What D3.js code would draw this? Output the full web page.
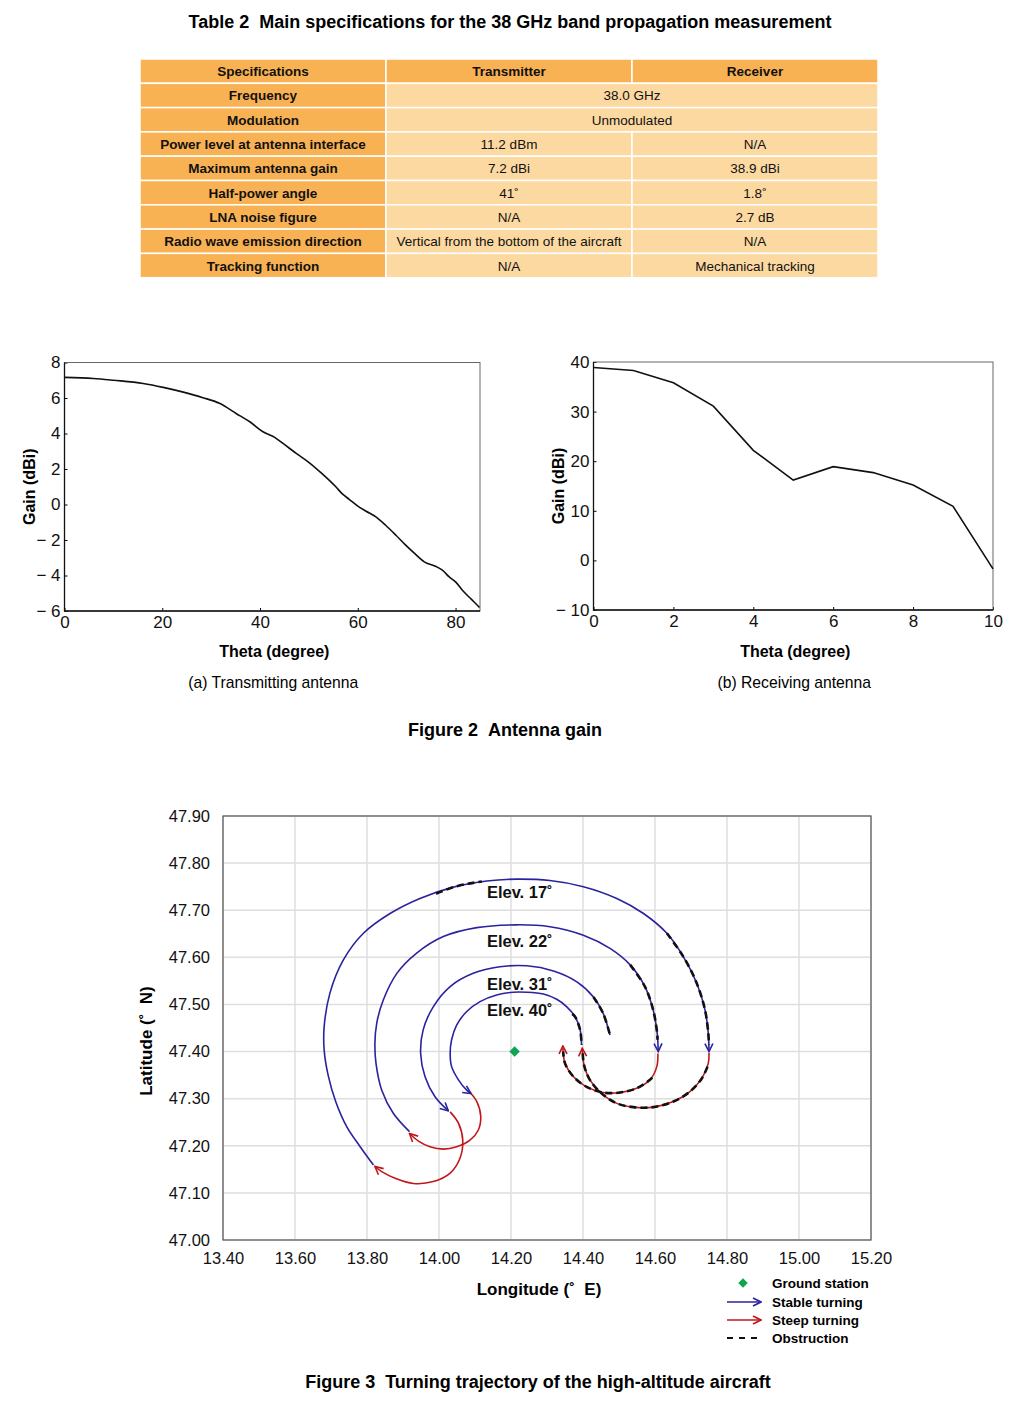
<!DOCTYPE html>
<html>
<head>
<meta charset="utf-8">
<script src="https://cdn.jsdelivr.net/npm/d3@7"></script>
<style>
body { margin: 0; background: #fff; }
svg { display: block; font-family: "Liberation Sans", Arial, sans-serif; }
</style>
</head>
<body>
<svg id="page" width="1024" height="1410"></svg>
<script>
// ---- Table 2 ----
let spec_names = ["Frequency", "Modulation", "Power level at antenna interface", "Maximum antenna gain",
    "Half-power angle", "LNA noise figure", "Radio wave emission direction", "Tracking function"]
let tx_values = ["38.0 GHz", "Unmodulated", "11.2 dBm", "7.2 dBi", "41˚", "N/A",
    "Vertical from the bottom of the aircraft", "N/A"]
let rx_values = [null, null, "N/A", "38.9 dBi", "1.8˚", "2.7 dB", "N/A", "Mechanical tracking"]
let table_head = ["Specifications", "Transmitter", "Receiver"]

// ---- Figure 2 (a) transmitting antenna ----
let tx_theta = [0, 5.9, 10, 16.1, 20.2, 24.3, 28.3, 31.7, 35.1, 37.9, 40.6, 43, 44.7, 47.4, 50.1, 52.8,
    55.5, 56.9, 58.3, 60, 61.7, 63.7, 65.7, 67.8, 69.8, 71.5, 73.6, 75.9, 77.3, 78.7, 80, 81.4, 82.7, 83.8, 84.9]
let tx_gain = [7.16, 7.1, 7.0, 6.82, 6.6, 6.33, 6.02, 5.7, 5.13, 4.66, 4.1, 3.78, 3.44, 2.88, 2.35, 1.71,
    1.0, 0.58, 0.28, -0.09, -0.38, -0.7, -1.17, -1.73, -2.29, -2.73, -3.23, -3.48, -3.7, -4.08, -4.36, -4.83, -5.2, -5.49, -5.8]

// ---- Figure 2 (b) receiving antenna ----
let rx_theta = [0, 1, 2, 3, 4, 5, 6, 7, 8, 9, 10]
let rx_gain = [38.9, 38.3, 35.8, 31.1, 22.2, 16.2, 18.9, 17.7, 15.2, 10.9, -1.7]

// ---- Figure 3 trajectories [lon, lat] ----
let stable_40 = [[14.396, 47.414], [14.392, 47.446], [14.378, 47.474], [14.355, 47.495], [14.327, 47.511],
    [14.290, 47.522], [14.244, 47.526], [14.206, 47.526], [14.160, 47.520], [14.114, 47.506], [14.077, 47.485],
    [14.049, 47.456], [14.035, 47.425], [14.031, 47.396], [14.035, 47.368], [14.054, 47.340], [14.077, 47.318],
    [14.089, 47.311]]
let steep_40 = [[14.089, 47.311], [14.105, 47.294], [14.116, 47.262], [14.109, 47.233], [14.086, 47.212],
    [14.049, 47.198], [14.012, 47.193], [13.975, 47.198], [13.943, 47.210], [13.918, 47.226]]
let stable_22 = [[13.918, 47.230], [13.873, 47.269], [13.841, 47.318], [13.825, 47.375], [13.822, 47.418],
    [13.827, 47.460], [13.845, 47.509], [13.883, 47.566], [13.938, 47.609], [14.012, 47.644], [14.105, 47.663],
    [14.216, 47.669], [14.308, 47.665], [14.401, 47.647], [14.475, 47.619], [14.531, 47.584], [14.572, 47.538],
    [14.595, 47.488], [14.606, 47.439], [14.609, 47.400]]
let steep_22 = [[14.608, 47.396], [14.605, 47.368], [14.586, 47.340], [14.549, 47.322], [14.503, 47.313],
    [14.456, 47.313], [14.410, 47.325], [14.373, 47.347], [14.350, 47.375], [14.344, 47.412]]
let stable_31 = [[14.475, 47.435], [14.456, 47.481], [14.429, 47.516], [14.383, 47.548], [14.318, 47.571],
    [14.244, 47.582], [14.169, 47.580], [14.095, 47.566], [14.031, 47.538], [13.984, 47.495], [13.956, 47.446],
    [13.949, 47.396], [13.961, 47.347], [13.989, 47.304], [14.026, 47.274]]
let steep_31 = [[14.031, 47.272], [14.054, 47.248], [14.066, 47.212], [14.058, 47.173], [14.031, 47.142],
    [13.984, 47.124], [13.929, 47.120], [13.878, 47.131], [13.841, 47.145], [13.822, 47.156]]
let stable_17 = [[13.818, 47.159], [13.781, 47.198], [13.744, 47.240], [13.713, 47.294], [13.692, 47.350],
    [13.681, 47.403], [13.681, 47.453], [13.697, 47.524], [13.734, 47.594], [13.790, 47.651], [13.864, 47.693],
    [13.947, 47.725], [14.040, 47.749], [14.133, 47.762], [14.216, 47.766], [14.308, 47.763], [14.401, 47.750],
    [14.494, 47.725], [14.568, 47.693], [14.633, 47.651], [14.679, 47.601], [14.716, 47.545], [14.739, 47.488],
    [14.748, 47.439], [14.750, 47.400]]
let steep_17 = [[14.750, 47.397], [14.748, 47.375], [14.730, 47.343], [14.697, 47.315], [14.651, 47.294],
    [14.595, 47.282], [14.540, 47.282], [14.494, 47.290], [14.452, 47.311], [14.419, 47.340], [14.403, 47.371],
    [14.398, 47.407]]

// obstructed parts of the flight
let obstruction = [
    [[13.992, 47.735], [14.040, 47.749], [14.086, 47.757], [14.119, 47.761]],
    [[14.633, 47.651], [14.679, 47.601], [14.716, 47.545], [14.739, 47.488], [14.748, 47.439], [14.750, 47.414]],
    [[14.746, 47.368], [14.730, 47.343], [14.697, 47.315], [14.651, 47.294], [14.595, 47.282], [14.540, 47.282],
        [14.494, 47.290], [14.452, 47.311], [14.419, 47.340], [14.403, 47.371], [14.399, 47.400]],
    [[14.531, 47.584], [14.572, 47.538], [14.595, 47.488], [14.606, 47.439], [14.607, 47.425]],
    [[14.592, 47.345], [14.586, 47.340], [14.549, 47.322], [14.503, 47.313], [14.456, 47.313], [14.410, 47.325],
        [14.373, 47.347], [14.350, 47.375], [14.345, 47.400]],
    [[14.429, 47.516], [14.456, 47.481], [14.475, 47.435]],
    [[14.370, 47.480], [14.378, 47.474], [14.392, 47.446], [14.396, 47.414]]
]

let ground_station = [14.21, 47.40]
let elev_labels = ["Elev. 17˚", "Elev. 22˚", "Elev. 31˚", "Elev. 40˚"]
let elev_label_pos = [[14.133, 47.739], [14.133, 47.635], [14.133, 47.543], [14.133, 47.488]]

let lon_ticks = [13.4, 13.6, 13.8, 14.0, 14.2, 14.4, 14.6, 14.8, 15.0, 15.2]
let lat_ticks = [47.0, 47.1, 47.2, 47.3, 47.4, 47.5, 47.6, 47.7, 47.8, 47.9]

let blue = "#2a229e"
let red = "#c0161c"
let font = "Liberation Sans, Arial, sans-serif"
let svg = d3.select("#page")


// ================= Table =================
function draw_table(){
    let top = 59, row_h = 24.3
    let col_x = [140, 386, 632, 878]
    let head_color = "#f9b253"
    let body_color = "#fdd9a2"
    let g = svg.append("g")

    svg.append("text")
        .attr("x", 510).attr("y", 28)
        .attr("text-anchor", "middle")
        .attr("font-size", 18).attr("font-weight", "bold")
        .text("Table 2\u00a0\u00a0Main specifications for the 38 GHz band propagation measurement")

    let rows = [[table_head[0], table_head[1], table_head[2]]]
    for(let i=0;i<spec_names.length;i++){
        rows.push([spec_names[i], tx_values[i], rx_values[i]])
    }

    rows.forEach((row, r) => {
        let y = top + r * row_h
        for(let c=0;c<3;c++){
            if(c == 2 && row[2] === null) continue
            let x0 = col_x[c]
            let x1 = (c == 1 && row[2] === null) ? col_x[3] : col_x[c+1]
            let fill = (r == 0 || c == 0) ? head_color : body_color
            g.append("rect")
                .attr("x", x0).attr("y", y)
                .attr("width", x1 - x0).attr("height", row_h)
                .attr("fill", fill)
                .attr("stroke", "#fff").attr("stroke-width", 1.5)
            g.append("text")
                .attr("x", (x0 + x1) / 2).attr("y", y + row_h / 2 + 5)
                .attr("text-anchor", "middle")
                .attr("font-size", 13.5)
                .attr("font-weight", (r == 0 || c == 0) ? "bold" : "normal")
                .attr("fill", "#111")
                .text(row[c])
        }
    })
}


// ================= Figure 2 panels =================
function draw_gain_panel(opts){
    let x = d3.scaleLinear().domain(opts.x_dom).range([opts.left, opts.right])
    let y = d3.scaleLinear().domain(opts.y_dom).range([opts.bottom, opts.top])
    let g = svg.append("g")

    let fmt = d => d < 0 ? "− " + (-d) : "" + d

    g.append("g")
        .attr("transform", "translate(0," + opts.bottom + ")")
        .call(d3.axisBottom(x).tickValues(opts.x_ticks).tickSizeInner(-3).tickSizeOuter(0).tickPadding(5))
        .call(a => a.select(".domain").remove())
        .call(a => a.selectAll("text").attr("font-size", 17).attr("fill", "#111").attr("font-family", font))

    g.append("g")
        .attr("transform", "translate(" + opts.left + ",0)")
        .call(d3.axisLeft(y).tickValues(opts.y_ticks).tickFormat(fmt).tickSizeInner(-3).tickSizeOuter(0).tickPadding(4))
        .call(a => a.select(".domain").remove())
        .call(a => a.selectAll("text").attr("font-size", 17).attr("fill", "#111").attr("font-family", font))

    g.append("rect")
        .attr("x", opts.left).attr("y", opts.top)
        .attr("width", opts.right - opts.left).attr("height", opts.bottom - opts.top)
        .attr("fill", "none").attr("stroke", "#666").attr("stroke-width", 1)
    g.append("path")
        .attr("d", `M${opts.left},${opts.top}V${opts.bottom}H${opts.right}`)
        .attr("fill", "none").attr("stroke", "#111").attr("stroke-width", 1.3)

    let pts = opts.xs.map((v, i) => [v, opts.ys[i]])
    g.append("path")
        .datum(pts)
        .attr("fill", "none")
        .attr("stroke", "#111")
        .attr("stroke-width", 1.6)
        .attr("d", d3.line().x(d => x(d[0])).y(d => y(d[1])).curve(opts.curve))

    let cx = (opts.left + opts.right) / 2
    g.append("text")
        .attr("x", cx + 2).attr("y", 657)
        .attr("text-anchor", "middle").attr("font-size", 16).attr("font-weight", "bold")
        .text("Theta (degree)")
    g.append("text")
        .attr("transform", `translate(${opts.left - 30},${(opts.top + opts.bottom) / 2}) rotate(-90)`)
        .attr("text-anchor", "middle").attr("font-size", 16).attr("font-weight", "bold")
        .text("Gain (dBi)")
    g.append("text")
        .attr("x", cx + 1).attr("y", 688)
        .attr("text-anchor", "middle").attr("font-size", 15.7)
        .text(opts.caption)
}


// ================= Figure 3 =================
function draw_trajectory(){
    let left = 223, right = 871, top = 816, bottom = 1240
    let x = d3.scaleLinear().domain([13.4, 15.2]).range([left, right])
    let y = d3.scaleLinear().domain([47.0, 47.9]).range([bottom, top])
    let g = svg.append("g")

    let defs = svg.append("defs")
    for(let [id, color] of [["arr_blue", blue], ["arr_red", red]]){
        defs.append("marker")
            .attr("id", id)
            .attr("viewBox", "0 0 10 10")
            .attr("refX", 9).attr("refY", 5)
            .attr("markerWidth", 10).attr("markerHeight", 10)
            .attr("markerUnits", "userSpaceOnUse")
            .attr("orient", "auto")
            .append("path")
                .attr("d", "M1,1 L9,5 L1,9")
                .attr("fill", "none").attr("stroke", color).attr("stroke-width", 1.6)
    }

    // grid
    g.append("g").selectAll("line").data(lon_ticks).enter().append("line")
        .attr("x1", d => x(d)).attr("x2", d => x(d)).attr("y1", top).attr("y2", bottom)
        .attr("stroke", "#dedede").attr("stroke-width", 1.5)
    g.append("g").selectAll("line").data(lat_ticks).enter().append("line")
        .attr("x1", left).attr("x2", right).attr("y1", d => y(d)).attr("y2", d => y(d))
        .attr("stroke", "#dedede").attr("stroke-width", 1.5)

    g.append("rect")
        .attr("x", left).attr("y", top).attr("width", right - left).attr("height", bottom - top)
        .attr("fill", "none").attr("stroke", "#555").attr("stroke-width", 1.2)

    g.append("g")
        .attr("transform", "translate(0," + bottom + ")")
        .call(d3.axisBottom(x).tickValues(lon_ticks).tickFormat(d3.format(".2f")).tickSize(0).tickPadding(12))
        .call(a => a.select(".domain").remove())
        .call(a => a.selectAll("text").attr("font-size", 16.5).attr("fill", "#111").attr("font-family", font))
    g.append("g")
        .attr("transform", "translate(" + left + ",0)")
        .call(d3.axisLeft(y).tickValues(lat_ticks).tickFormat(d3.format(".2f")).tickSize(0).tickPadding(13))
        .call(a => a.select(".domain").remove())
        .call(a => a.selectAll("text").attr("font-size", 16.5).attr("fill", "#111").attr("font-family", font))

    let line = d3.line().x(d => x(d[0])).y(d => y(d[1])).curve(d3.curveCatmullRom)

    let stable = [stable_40, stable_22, stable_31, stable_17]
    let steep = [steep_40, steep_22, steep_31, steep_17]

    g.append("g").selectAll("path").data(steep).enter().append("path")
        .attr("d", line).attr("fill", "none")
        .attr("stroke", red).attr("stroke-width", 1.6)
        .attr("marker-end", "url(#arr_red)")
    g.append("g").selectAll("path").data(stable).enter().append("path")
        .attr("d", line).attr("fill", "none")
        .attr("stroke", blue).attr("stroke-width", 1.6)
        .attr("marker-end", "url(#arr_blue)")
    g.append("g").selectAll("path").data(obstruction).enter().append("path")
        .attr("d", line).attr("fill", "none")
        .attr("stroke", "#111").attr("stroke-width", 2.6)
        .attr("stroke-dasharray", "7,4")

    g.append("path")
        .attr("d", d3.symbol(d3.symbolSquare, 55))
        .attr("transform", `translate(${x(ground_station[0])},${y(ground_station[1])}) rotate(45)`)
        .attr("fill", "#0ea550")

    g.append("g").selectAll("text").data(elev_labels).enter().append("text")
        .attr("x", (d, i) => x(elev_label_pos[i][0]))
        .attr("y", (d, i) => y(elev_label_pos[i][1]) + 6)
        .attr("font-size", 16.5).attr("font-weight", "bold").attr("fill", "#111")
        .text(d => d)

    g.append("text")
        .attr("transform", `translate(152,1041) rotate(-90)`)
        .attr("text-anchor", "middle").attr("font-size", 17).attr("font-weight", "bold")
        .text("Latitude (˚\u00a0\u00a0N)")
    g.append("text")
        .attr("x", 539).attr("y", 1295)
        .attr("text-anchor", "middle").attr("font-size", 17).attr("font-weight", "bold")
        .text("Longitude (˚\u00a0\u00a0E)")

    // legend
    let lg = g.append("g").attr("font-size", 13.5).attr("font-weight", "bold")
    let leg_y = [1283, 1302, 1320, 1338]
    let leg_text = ["Ground station", "Stable turning", "Steep turning", "Obstruction"]
    lg.append("path")
        .attr("transform", `translate(743,${leg_y[0]}) rotate(45)`)
        .attr("d", d3.symbol(d3.symbolSquare, 45))
        .attr("fill", "#0ea550")
    lg.append("line").attr("x1", 727).attr("x2", 761).attr("y1", leg_y[1]).attr("y2", leg_y[1])
        .attr("stroke", blue).attr("stroke-width", 1.6).attr("marker-end", "url(#arr_blue)")
    lg.append("line").attr("x1", 727).attr("x2", 761).attr("y1", leg_y[2]).attr("y2", leg_y[2])
        .attr("stroke", red).attr("stroke-width", 1.6).attr("marker-end", "url(#arr_red)")
    lg.append("line").attr("x1", 727).attr("x2", 758).attr("y1", leg_y[3]).attr("y2", leg_y[3])
        .attr("stroke", "#111").attr("stroke-width", 1.8).attr("stroke-dasharray", "6,6")
    lg.selectAll("text").data(leg_text).enter().append("text")
        .attr("x", 772).attr("y", (d, i) => leg_y[i] + 5)
        .text(d => d)

    svg.append("text")
        .attr("x", 538).attr("y", 1388)
        .attr("text-anchor", "middle").attr("font-size", 18).attr("font-weight", "bold")
        .text("Figure 3\u00a0\u00a0Turning trajectory of the high-altitude aircraft")
}


draw_table()

draw_gain_panel({
    left: 64.5, right: 480, top: 362.5, bottom: 611,
    x_dom: [0, 85], y_dom: [-6, 8],
    x_ticks: [0, 20, 40, 60, 80], y_ticks: [-6, -4, -2, 0, 2, 4, 6, 8],
    xs: tx_theta, ys: tx_gain, curve: d3.curveMonotoneX,
    caption: "(a) Transmitting antenna"
})
draw_gain_panel({
    left: 593.5, right: 993, top: 362, bottom: 610,
    x_dom: [0, 10], y_dom: [-10, 40],
    x_ticks: [0, 2, 4, 6, 8, 10], y_ticks: [-10, 0, 10, 20, 30, 40],
    xs: rx_theta, ys: rx_gain, curve: d3.curveLinear,
    caption: "(b) Receiving antenna"
})

svg.append("text")
    .attr("x", 505).attr("y", 736)
    .attr("text-anchor", "middle").attr("font-size", 18).attr("font-weight", "bold")
    .text("Figure 2\u00a0\u00a0Antenna gain")

draw_trajectory()
</script>
</body>
</html>
